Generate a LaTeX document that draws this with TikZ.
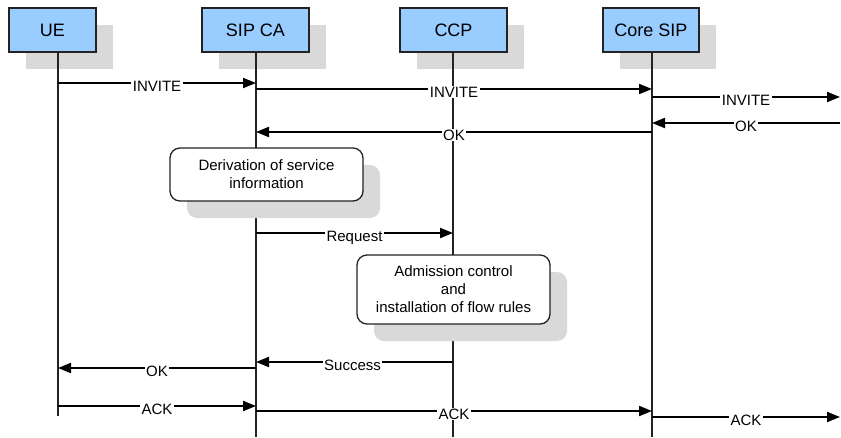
\documentclass[tikz,border=0pt]{standalone}
\usepackage{fontspec}
\setmainfont{Liberation Sans}
\usepackage{tikz}
\usetikzlibrary{arrows.meta,shapes,shadows,positioning,calc}
\definecolor{actorblue}{RGB}{153,204,255}
\definecolor{shadowgrey}{RGB}{217,217,217}
\definecolor{linegrey}{RGB}{35,35,35}
\tikzset{
    actor/.style={
        rectangle,
        draw=linegrey,
        line width=1.3pt,
        fill=actorblue,
        minimum height=44pt,
        font=\fontsize{18}{21}\selectfont,
        drop shadow={shadow xshift=17pt,shadow yshift=-17pt,fill=shadowgrey,opacity=1},
    },
    note/.style={
        rectangle,
        rounded corners=10pt,
        draw=linegrey,
        line width=1.3pt,
        fill=white,
        minimum width=193pt,
        align=center,
        font=\fontsize{15}{18}\selectfont,
        drop shadow={shadow xshift=17pt,shadow yshift=-17pt,fill=shadowgrey,opacity=1},
    },
    lifeline/.style={
        draw=linegrey,
        line width=1.3pt,
    },
    msg/.style={
        ->,
        draw=black,
        line width=2pt,
    },
    msglabel/.style={
        fill=white,
        inner xsep=1.5pt,
        inner ysep=0.5pt,
        text height=10.7pt,
        text depth=0pt,
        yshift=-3pt,
        font=\fontsize{15}{18}\selectfont,
    },
}
\begin{document}
\begin{tikzpicture}[x=1pt,y=-1pt,>={Triangle[length=13pt,width=10pt]}]
	    \useasboundingbox (0,0) rectangle (841,437);
	    % participants
	    \node [actor,minimum width=87pt] (UE) at (52.5,30) {UE};
	    \node [actor,minimum width=107pt] (CA) at (255.5,30) {SIP CA};
	    \node [actor,minimum width=107pt] (CCP) at (453.5,30) {CCP};
	    \node [actor,minimum width=96pt] (CS) at (651,30) {Core SIP};
	    \coordinate (UE-l) at (58,52);
	    \coordinate (CA-l) at (256,52);
	    \coordinate (CCP-l) at (453,52);
	    \coordinate (CS-l) at (652,52);
	    % lifelines
	    \path[lifeline] (UE-l) -- (UE-l |- 0,416);
	    \path[lifeline] (CA-l) -- (CA-l |- 0,437);
	    \path[lifeline] (CCP-l) -- (CCP-l |- 0,437);
	    \path[lifeline] (CS-l) -- (CS-l |- 0,437);
	    % processing steps
	    \node [note,minimum height=53pt] (derive) at (266.5,174.5) {Derivation of service\\information};
	    \node [note,minimum height=69pt] (admit) at (453.5,289.5) {Admission control\\and\\installation of flow rules};
	    % outside peer
	    \coordinate (out-1) at (840,97);
	    \coordinate (in-1) at (840,123);
	    \coordinate (out-2) at (840,417);
	    % messages
	    \path (UE-l |- 0,83) edge [msg] node [msglabel] {INVITE} (CA-l |- 0,83);
	    \path (CA-l |- 0,89) edge [msg] node [msglabel] {INVITE} (CS-l |- 0,89);
	    \path (CS-l |- 0,97) edge [msg] node [msglabel] {INVITE} (out-1);
	    \path (in-1) edge [msg] node [msglabel] {OK} (CS-l |- 0,123);
	    \path (CS-l |- 0,132) edge [msg] node [msglabel] {OK} (CA-l |- 0,132);
	    \path (CA-l |- 0,233) edge [msg] node [msglabel] {Request} (CCP-l |- 0,233);
	    \path (CCP-l |- 0,362) edge [msg] node [msglabel,xshift=-2pt] {Success} (CA-l |- 0,362);
	    \path (CA-l |- 0,368) edge [msg] node [msglabel] {OK} (UE-l |- 0,368);
	    \path (UE-l |- 0,406) edge [msg] node [msglabel] {ACK} (CA-l |- 0,406);
	    \path (CA-l |- 0,411) edge [msg] node [msglabel] {ACK} (CS-l |- 0,411);
	    \path (CS-l |- 0,417) edge [msg] node [msglabel] {ACK} (out-2);
\end{tikzpicture}
\end{document}
